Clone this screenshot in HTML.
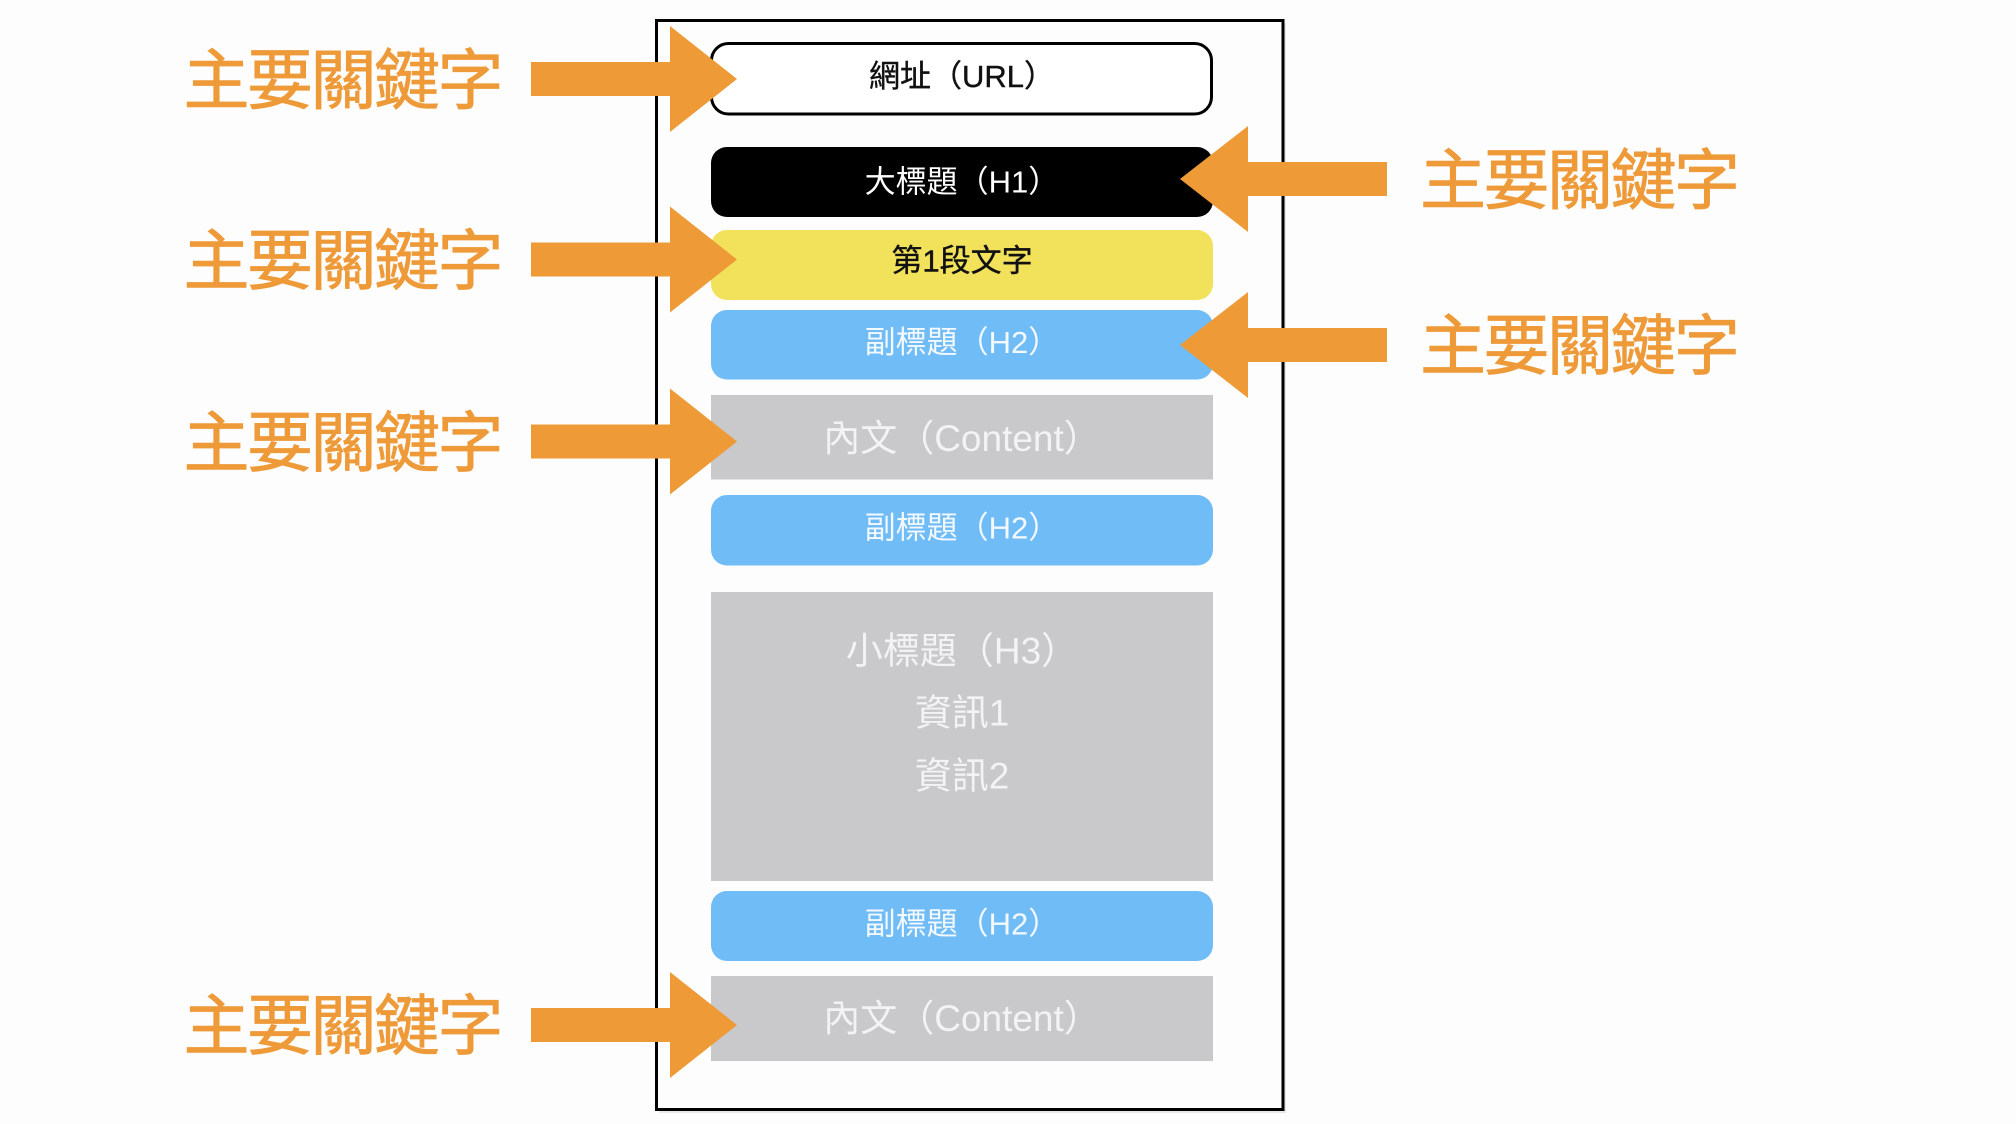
<!DOCTYPE html>
<html>
<head>
<meta charset="utf-8">
<style>
  html, body { margin: 0; padding: 0; background: #fdfdfd; }
  body { width: 2016px; height: 1124px; overflow: hidden; }
  svg { display: block; }
  text { font-family: "Liberation Sans", "Noto Sans CJK TC", sans-serif; }
  .kw { font-size: 66px; fill: #ee9a38; letter-spacing: -2.5px; stroke: #ee9a38; stroke-width: 0.8px; }
  .lbl { font-size: 31px; text-anchor: middle; }
  .big { font-size: 37px; text-anchor: middle; fill: #f3f3f4; }
</style>
</head>
<body>
<svg width="2016" height="1124" viewBox="0 0 2016 1124" xmlns="http://www.w3.org/2000/svg">
  <rect x="0" y="0" width="2016" height="1124" fill="#fdfdfd"/>

  <!-- outer page frame with faint shadow -->
  <rect x="659" y="23" width="627" height="1090" fill="#000" opacity="0.08"/>
  <rect x="656.5" y="20.5" width="626.5" height="1089" fill="#fdfdfd" stroke="#000" stroke-width="3"/>

  <!-- URL box -->
  <rect x="711.5" y="43.5" width="500" height="70.5" rx="17" ry="17" fill="#ffffff" stroke="#000" stroke-width="3"/>
  <text class="lbl" x="962" y="87" fill="#111" stroke="#111" stroke-width="0.4">網址（URL）</text>

  <!-- H1 -->
  <rect x="711" y="147" width="502" height="70" rx="16" ry="16" fill="#000"/>
  <text class="lbl" x="962" y="192.5" fill="#ffffff">大標題（H1）</text>

  <!-- Paragraph 1 -->
  <rect x="711" y="230" width="502" height="70" rx="16" ry="16" fill="#f2e15b"/>
  <text class="lbl" x="962" y="271.5" fill="#111" stroke="#111" stroke-width="0.4">第1段文字</text>

  <!-- H2 #1 -->
  <rect x="711" y="310" width="502" height="69.5" rx="16" ry="16" fill="#70bcf7"/>
  <text class="lbl" x="962" y="353" fill="#f4f9fe">副標題（H2）</text>

  <!-- Content 1 -->
  <rect x="711" y="395" width="502" height="84.5" fill="#c9c8ca"/>
  <text class="big" x="962" y="451">內文（Content）</text>

  <!-- H2 #2 -->
  <rect x="711" y="495" width="502" height="70.5" rx="16" ry="16" fill="#70bcf7"/>
  <text class="lbl" x="962" y="538.5" fill="#f4f9fe">副標題（H2）</text>

  <!-- H3 block -->
  <rect x="711" y="592" width="502" height="289" fill="#c9c8ca"/>
  <text class="big" x="962" y="663.5">小標題（H3）</text>
  <text class="big" x="962" y="725.5">資訊1</text>
  <text class="big" x="962" y="788.5">資訊2</text>

  <!-- H2 #3 -->
  <rect x="711" y="891" width="502" height="70" rx="16" ry="16" fill="#70bcf7"/>
  <text class="lbl" x="962" y="934.5" fill="#f4f9fe">副標題（H2）</text>

  <!-- Content 2 -->
  <rect x="711" y="976" width="502" height="85" fill="#c9c8ca"/>
  <text class="big" x="962" y="1031">內文（Content）</text>

  <!-- Left arrows (pointing right) -->
  <g fill="#ee9a37">
    <polygon points="531,62 670,62 670,26 737,79 670,132 670,96 531,96"/>
    <polygon points="531,242.5 670,242.5 670,206.5 737,259.5 670,312.5 670,276.5 531,276.5"/>
    <polygon points="531,424.5 670,424.5 670,388.5 737,441.5 670,494.5 670,458.5 531,458.5"/>
    <polygon points="531,1008 670,1008 670,972 737,1025 670,1078 670,1042 531,1042"/>
  </g>

  <!-- Right arrows (pointing left) -->
  <g fill="#ee9a37">
    <polygon points="1387,162 1248,162 1248,126 1180,179 1248,232 1248,196 1387,196"/>
    <polygon points="1387,328 1248,328 1248,292 1180,345 1248,398 1248,362 1387,362"/>
  </g>

  <!-- Keyword labels -->
  <text class="kw" x="183.5" y="103.5">主要關鍵字</text>
  <text class="kw" x="183.5" y="284">主要關鍵字</text>
  <text class="kw" x="183.5" y="466">主要關鍵字</text>
  <text class="kw" x="183.5" y="1049">主要關鍵字</text>
  <text class="kw" x="1420" y="203.5">主要關鍵字</text>
  <text class="kw" x="1420" y="369">主要關鍵字</text>
</svg>
</body>
</html>
